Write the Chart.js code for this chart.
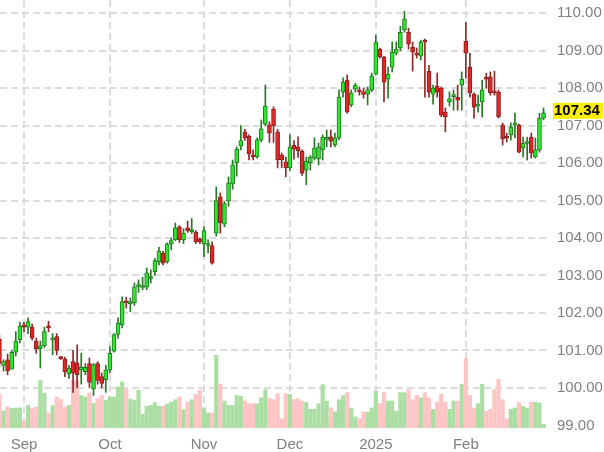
<!DOCTYPE html>
<html>
<head>
<meta charset="utf-8">
<script src="https://cdn.jsdelivr.net/npm/chart.js@4.4.1/dist/chart.umd.min.js"></script>
<style>
html, body { margin: 0; padding: 0; background: #fff; }
#wrap { width: 604px; height: 452px; }
</style>
</head>
<body>
<div id="wrap"><canvas id="chart" width="604" height="452"></canvas></div>
<script>
// daily candles, late Aug 2024 -> end Feb 2025 (index = trading day)
const open = [
  101.3, 100.6, 100.75, 100.5, 100.95, 101.28, 101.68, 101.62, 101.62, 101.25,
  101.05, 101.12, 101.65, 101.28, 101.37, 100.82, 100.77, 100.37, 100.7, 100.67,
  100.48, 100.43, 100.65, 99.97, 100.65, 100.3, 100.22, 100.47, 100.98, 101.43,
  101.68, 102.32, 102.25, 102.27, 102.7, 102.68, 102.69, 102.92, 103.1, 103.36,
  103.6, 103.36, 103.84, 103.95, 104.3, 103.95, 104.27, 104.17, 104.15, 103.97,
  103.85, 103.8, 103.8, 104.13, 105.1, 104.37, 104.99, 105.44, 106.0, 106.45,
  106.83, 106.72, 106.22, 106.16, 106.61, 107.04, 107.02, 107.44, 106.83, 106.21,
  106.03, 105.87, 106.47, 106.43, 106.32, 105.81, 106.0, 106.13, 106.11, 106.35,
  106.63, 106.7, 106.48, 106.67, 107.89, 108.21, 107.55, 107.97, 107.93, 107.9,
  107.84, 107.95, 108.37, 109.04, 108.83, 108.24, 108.56, 108.93, 109.07, 109.55,
  109.49, 109.09, 108.92, 108.85, 109.27, 108.45, 107.84, 108.05, 108.0, 107.36,
  107.63, 107.77, 107.75, 108.08, 109.25, 108.56, 107.84, 107.52, 107.63, 108.29,
  108.3, 107.92, 107.89, 107.01, 106.7, 106.75, 107.01, 107.01, 106.4, 106.52,
  106.69, 106.16, 106.35, 107.2
];
const high = [
  101.4, 100.75, 100.9, 101.0, 101.5, 101.75, 101.75, 101.87, 101.7, 101.33,
  101.25, 101.62, 101.78, 101.45, 101.45, 100.84, 100.82, 100.6, 101.0, 101.15,
  100.93, 100.65, 100.8, 100.65, 100.7, 100.4, 100.6, 101.1, 101.45, 101.87,
  102.43, 102.42, 102.4, 102.8, 102.88, 102.95, 103.2, 103.15, 103.45, 103.75,
  103.65, 103.87, 104.0, 104.4, 104.33, 104.25, 104.45, 104.52, 104.2, 104.0,
  104.3, 103.95, 103.9, 105.36, 105.2, 104.97, 105.63, 106.08, 106.43, 107.0,
  106.9, 106.75, 106.35, 106.67, 107.15, 108.08, 107.1, 107.5, 106.9, 106.27,
  106.16, 106.75, 106.6, 106.7, 106.35, 106.16, 106.2, 106.67, 106.53, 106.75,
  106.88, 106.88, 106.8, 107.95, 108.27, 108.35, 107.95, 108.13, 108.03, 108.0,
  108.03, 108.4, 109.41, 109.07, 108.85, 108.56, 109.23, 109.23, 109.65, 110.05,
  109.6, 109.23, 109.07, 109.28, 109.31, 108.61, 108.08, 108.4, 108.03, 107.47,
  107.9, 107.95, 108.08, 108.43, 109.76, 108.93, 107.87, 107.81, 108.21, 108.4,
  108.43, 108.45, 107.95, 107.07, 106.8, 107.07, 107.33, 107.04, 106.69, 106.69,
  106.8, 106.67, 107.33, 107.47
];
const low = [
  100.55, 100.45, 100.35, 100.5, 100.85, 101.2, 101.5, 101.45, 101.28, 100.92,
  100.53, 101.08, 101.5, 100.88, 100.88, 100.76, 100.3, 100.25, 99.88, 100.0,
  100.1, 100.35, 100.02, 99.8, 100.1, 100.0, 99.88, 100.4, 100.95, 101.33,
  101.6, 102.13, 102.03, 102.2, 102.55, 102.62, 102.62, 102.8, 103.0, 103.28,
  103.28, 103.33, 103.68, 103.93, 103.88, 103.85, 104.15, 104.12, 103.85, 103.85,
  103.5, 103.6, 103.3, 104.05, 104.13, 104.3, 104.85, 105.3, 105.65, 106.35,
  106.6, 106.08, 106.08, 106.13, 106.56, 107.0, 106.55, 106.55, 105.87, 105.87,
  105.63, 105.8, 106.1, 106.15, 105.67, 105.42, 105.81, 106.08, 105.95, 106.08,
  106.43, 106.43, 106.43, 106.62, 107.76, 107.33, 107.5, 107.89, 107.81, 107.73,
  107.55, 107.9, 108.35, 108.8, 107.63, 107.73, 108.43, 108.88, 109.0, 109.49,
  109.04, 108.45, 108.8, 108.75, 107.76, 107.76, 107.57, 107.76, 107.23, 106.83,
  107.52, 107.41, 107.41, 107.41, 108.27, 107.76, 107.2, 107.36, 107.23, 108.0,
  107.81, 107.81, 107.2, 106.48, 106.56, 106.61, 106.67, 106.27, 106.16, 106.08,
  106.13, 106.13, 106.29, 107.15
];
const close = [
  100.65, 100.7, 100.45, 100.95, 101.25, 101.65, 101.62, 101.77, 101.33, 101.05,
  101.12, 101.5, 101.6, 101.32, 101.0, 100.78, 100.43, 100.53, 100.4, 100.35,
  100.55, 100.55, 100.15, 100.62, 100.2, 100.12, 100.48, 100.92, 101.42, 101.73,
  102.3, 102.27, 102.3, 102.7, 102.76, 102.71, 103.07, 102.97, 103.4, 103.65,
  103.33, 103.84, 103.93, 104.27, 103.95, 104.13, 104.19, 104.21, 103.9, 103.9,
  104.2, 103.82, 103.33, 105.0, 104.4, 104.92, 105.47, 105.95, 106.37, 106.6,
  106.67, 106.24, 106.16, 106.62, 106.91, 107.52, 106.8, 106.99, 106.08, 106.08,
  105.87, 106.43, 106.37, 106.32, 105.73, 106.05, 106.16, 106.4, 106.43, 106.69,
  106.68, 106.58, 106.67, 107.76, 108.16, 107.36, 107.87, 108.08, 107.9, 107.83,
  107.95, 108.33, 109.23, 108.83, 108.16, 108.37, 108.96, 109.04, 109.49, 109.84,
  109.17, 108.96, 108.88, 109.23, 109.23, 107.89, 108.0, 107.89, 107.28, 107.23,
  107.71, 107.8, 107.68, 108.24, 108.93, 107.87, 107.49, 107.56, 107.95, 108.24,
  107.87, 107.87, 107.23, 106.64, 106.66, 106.96, 107.07, 106.29, 106.53, 106.55,
  106.27, 106.35, 107.2, 107.34
];
const volume = [
  34, 17, 21, 19.5, 20, 20, 7, 22.5, 19.5, 21,
  47.5, 35, 15, 22.5, 31, 28.5, 21, 22.5, 47.5, 47.5,
  32.5, 31, 35, 24.5, 29, 32.5, 28, 31, 31, 41,
  46, 39, 29, 27.5, 37.7, 13.7, 21.7, 22.7, 25.3, 21.7,
  21.7, 24, 26, 28.3, 31, 18.3, 26, 28.3, 33.7, 37.7,
  20, 15, 15, 72.7, 43.7, 27, 22.7, 22.7, 32.7, 31.7,
  27, 24.3, 24.3, 24.3, 30.3, 38.3, 29.3, 28.3, 34.3, 9.3,
  34.3, 33.7, 28.3, 29.3, 27, 25.7, 18.7, 18.7, 24.3, 43.3,
  27, 20.3, 16, 28.3, 32.3, 35.3, 20, 11, 9.3, 16,
  16, 20, 36.7, 24.3, 35.3, 27, 27, 16.7, 35.3, 35.3,
  38.3, 28.3, 32.7, 30, 35.3, 30, 18.7, 26, 33.7, 26,
  18.7, 27, 27, 43.7, 69.3, 32.7, 20, 24.3, 43.7, 16.7,
  18.7, 38.3, 48.7, 28.3, 9.3, 18.7, 20, 25.7, 21.7, 20,
  25.7, 25.7, 25, 3.3
];
// first trading day of each month (index) and its label
const monthIdx = [6, 27, 50, 71, 92, 114];
const monthLabels = ['Sep', 'Oct', 'Nov', 'Dec', '2025', 'Feb'];
const priceTicks = [99, 100, 101, 102, 103, 104, 105, 106, 107, 108, 109, 110];
const lastPrice = 107.34;

const idx = open.map((_, i) => i);
const up = idx.map(i => close[i] >= open[i]);
const FONT = "'Liberation Sans', Arial, sans-serif";

const lastLabel = {
  id: 'lastLabel',
  afterDraw(chart) {
    const ctx = chart.ctx;
    const py = chart.scales.y.getPixelForValue(lastPrice);
    ctx.save();
    ctx.fillStyle = '#ffee00';
    ctx.fillRect(553, py - 10, 50, 16);
    ctx.fillStyle = '#000';
    ctx.font = 'bold 15px ' + FONT;
    ctx.textBaseline = 'middle';
    ctx.fillText(lastPrice.toFixed(2), 554, py - 2);
    ctx.restore();
  }
};

new Chart('chart', {
  type: 'bar',
  data: {
    datasets: [
      {
        label: 'body',
        data: idx.map(i => ({ x: i, y: [open[i], close[i]] })),
        backgroundColor: up.map(u => u ? '#2ee62e' : '#e02626'),
        borderColor: up.map(u => u ? '#1f7a1f' : '#8a1f1f'),
        borderWidth: 1,
        borderSkipped: false,
        barThickness: 4,
        minBarLength: 2,
        grouped: false,
        order: 0
      },
      {
        label: 'wick',
        data: idx.map(i => ({ x: i, y: [low[i], high[i]] })),
        backgroundColor: up.map(u => u ? '#247a24' : '#8e2a2a'),
        barThickness: 1,
        grouped: false,
        order: 1
      },
      {
        label: 'volume',
        data: idx.map(i => ({ x: i, y: volume[i] })),
        yAxisID: 'yv',
        backgroundColor: up.map(u => u ? '#aadea2' : '#ffc4c4'),
        barThickness: 3.5,
        grouped: false,
        order: 2
      }
    ]
  },
  options: {
    responsive: false,
    animation: false,
    layout: { padding: 0 },
    plugins: { legend: { display: false }, tooltip: { enabled: false } },
    scales: {
      x: {
        type: 'linear',
        min: 0.14,
        max: 133.6,
        offset: false,
        afterBuildTicks: s => { s.ticks = monthIdx.map(v => ({ value: v })); },
        afterFit: s => { s.height = 24; s.paddingLeft = 0; s.paddingRight = 0; },
        ticks: {
          autoSkip: false,
          maxRotation: 0,
          padding: 8,
          color: '#808080',
          font: { size: 15, family: FONT },
          callback: v => monthLabels[monthIdx.indexOf(v)]
        },
        grid: { offset: false, color: '#dcdcdc', lineWidth: 2, drawTicks: false },
        border: { display: false, dash: [7, 4] }
      },
      y: {
        position: 'right',
        min: 98.93,
        max: 110.35,
        afterBuildTicks: s => { s.ticks = priceTicks.map(v => ({ value: v })); },
        afterFit: s => { s.width = 58; s.paddingTop = 0; s.paddingBottom = 0; },
        ticks: {
          padding: 11,
          color: '#808080',
          font: { size: 15, family: FONT },
          callback: v => v.toFixed(2)
        },
        grid: { color: '#dcdcdc', lineWidth: 2, drawTicks: false },
        border: { display: false, dash: [7, 4] }
      },
      yv: { display: false, min: 0, max: 428 }
    }
  },
  plugins: [lastLabel]
});
</script>
</body>
</html>
